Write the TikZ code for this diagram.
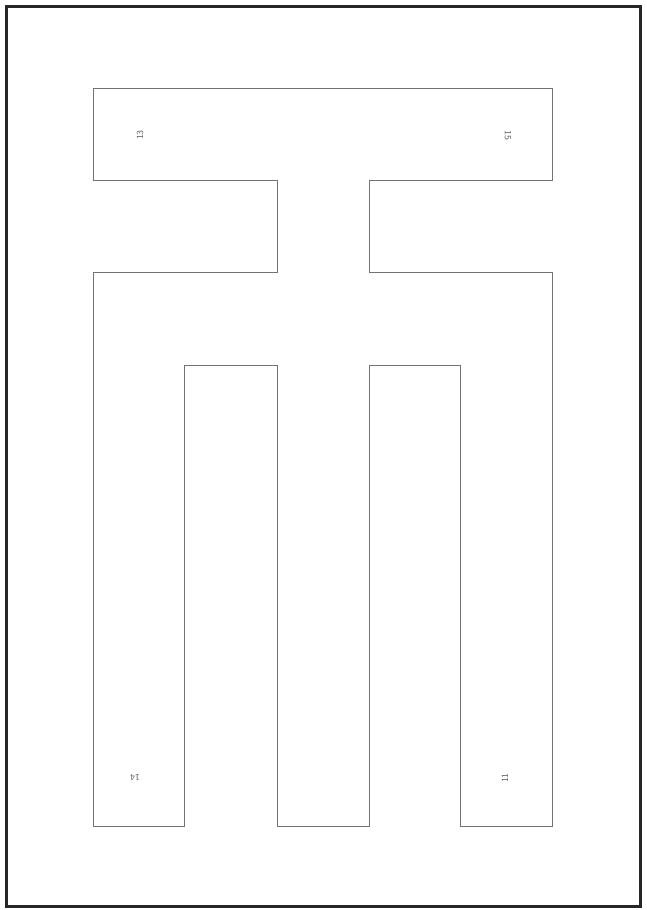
\documentclass[tikz,border=0pt]{standalone}
\usepackage[rgb]{xcolor}
\usepackage{tikz}

\begin{document}
\begin{tikzpicture}[x=0.75pt, y=-0.75pt,
  outline/.style={draw=black!55, line width=0.5pt},
  tag/.style={font=\sffamily\fontsize{7}{7}\selectfont, text=black!60, inner sep=0pt}]

\useasboundingbox (0,0) rectangle (646,910);

% outer frame of the sheet
\draw[black!85, line width=2.4pt] (6.5,6.5) rectangle (640.5,906.5);

% the one-piece outline, going round clockwise from the top left corner
\draw[outline]
  (93,88) -- (552,88) -- (552,180) -- (369,180) -- (369,272) -- (552,272)
  -- (552,826) -- (460,826) -- (460,365) -- (369,365) -- (369,826)
  -- (277,826) -- (277,365) -- (184,365) -- (184,826) -- (93,826)
  -- (93,272) -- (277,272) -- (277,180) -- (93,180) -- cycle;

% corner numbers
\node[tag, rotate=90]  (tl) at (140,135) {13};
\node[tag, rotate=-90] (tr) at (508,135) {15};
\node[tag, rotate=180] (bl) at (135,778) {14};
\node[tag, rotate=90]  (br) at (505,778) {11};

\end{tikzpicture}
\end{document}
